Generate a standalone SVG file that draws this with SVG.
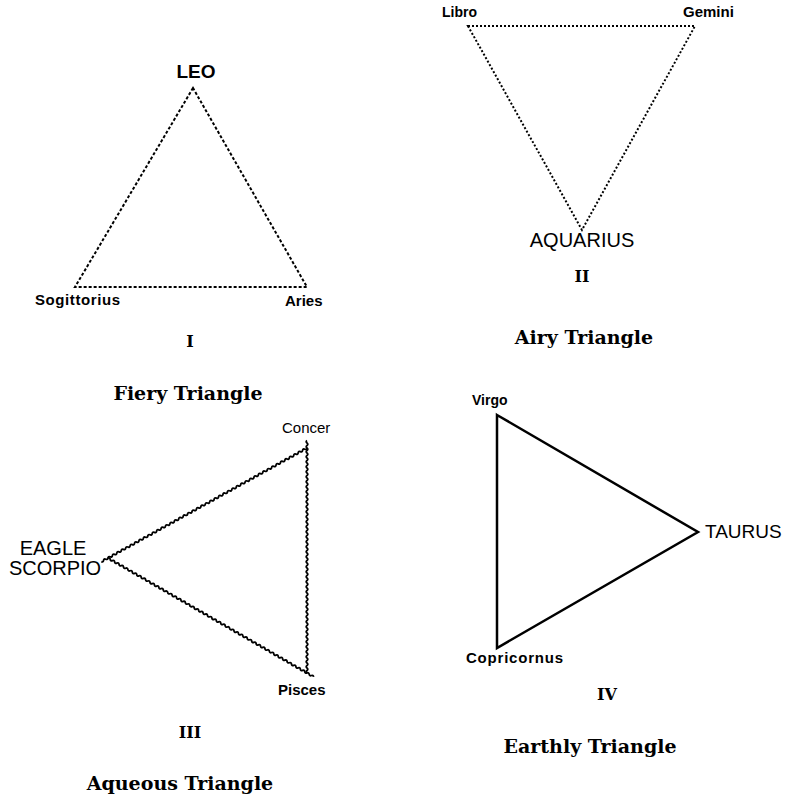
<svg xmlns="http://www.w3.org/2000/svg" xmlns:xlink="http://www.w3.org/1999/xlink" width="790" height="802" viewBox="0 0 790 802">
<style>
.lbl{font-family:"Liberation Sans",Arial,sans-serif;fill:#000}
.b{font-weight:bold}
.title{font-family:"DejaVu Serif","Liberation Serif",serif;font-weight:bold;font-size:19px;fill:#000;text-anchor:middle}
.num{font-family:"DejaVu Serif","Liberation Serif",serif;font-weight:bold;font-size:16px;fill:#000;text-anchor:middle}
.mid{text-anchor:middle}
.fiery{fill:none;stroke:#000;stroke-width:2;stroke-dasharray:3 2}
.airy{fill:none;stroke:#000;stroke-width:2;stroke-dasharray:2 2}
.earth{fill:none;stroke:#000;stroke-width:2.5;stroke-linejoin:miter}
.wave{fill:none;stroke:#000;stroke-width:1.8}
</style>
<defs>
<path id="wv" d="M0,0 q1.25,-1.6 2.5,0 t2.5,0 t2.5,0 t2.5,0 t2.5,0 t2.5,0 t2.5,0 t2.5,0 t2.5,0 t2.5,0 t2.5,0 t2.5,0 t2.5,0 t2.5,0 t2.5,0 t2.5,0 t2.5,0 t2.5,0 t2.5,0 t2.5,0 t2.5,0 t2.5,0 t2.5,0 t2.5,0 t2.5,0 t2.5,0 t2.5,0 t2.5,0 t2.5,0 t2.5,0 t2.5,0 t2.5,0 t2.5,0 t2.5,0 t2.5,0 t2.5,0 t2.5,0 t2.5,0 t2.5,0 t2.5,0 t2.5,0 t2.5,0 t2.5,0 t2.5,0 t2.5,0 t2.5,0 t2.5,0 t2.5,0 t2.5,0 t2.5,0 t2.5,0 t2.5,0 t2.5,0 t2.5,0 t2.5,0 t2.5,0 t2.5,0 t2.5,0 t2.5,0 t2.5,0 t2.5,0 t2.5,0 t2.5,0 t2.5,0 t2.5,0 t2.5,0 t2.5,0 t2.5,0 t2.5,0 t2.5,0 t2.5,0 t2.5,0 t2.5,0 t2.5,0 t2.5,0 t2.5,0 t2.5,0 t2.5,0 t2.5,0 t2.5,0 t2.5,0 t2.5,0 t2.5,0 t2.5,0 t2.5,0 t2.5,0 t2.5,0 t2.5,0 t2.5,0 t2.5,0 t2.5,0 t2.5,0 t2.5,0"/>
</defs>
<rect width="790" height="802" fill="#fff"/>
<g id="connectors">
  <polygon class="fiery" points="193,88 75,287 307,287"/>
  <polygon class="airy" points="468,26 695,26 582,230"/>
  <use xlink:href="#wv" class="wave" transform="translate(307,448) rotate(151.07) scale(1.0107,1)"/>
  <use xlink:href="#wv" class="wave" transform="translate(108,558) rotate(30.02) scale(1.0213,1)"/>
  <use xlink:href="#wv" class="wave" transform="translate(307,673) rotate(-90)"/>
  <polygon class="earth" points="497,415 698,532 497,648"/>
</g>
<g id="fiery">
  <text class="lbl b mid" x="196" y="78" font-size="19">LEO</text>
  <text class="lbl b" x="35" y="305" font-size="15" textLength="85">Sogittorius</text>
  <text class="lbl b" x="285" y="306" font-size="15">Aries</text>
  <text class="num" x="190" y="347">I</text>
  <text class="title" x="188" y="400">Fiery Triangle</text>
</g>
<g id="airy">
  <text class="lbl b" x="442" y="17" font-size="14">Libro</text>
  <text class="lbl b" x="683" y="17" font-size="15">Gemini</text>
  <text class="lbl mid" x="582" y="247" font-size="20">AQUARIUS</text>
  <text class="num" x="582" y="282">II</text>
  <text class="title" x="584" y="344">Airy Triangle</text>
</g>
<g id="aqueous">
  <text class="lbl" x="282" y="433" font-size="15">Concer</text>
  <text class="lbl mid" x="53" y="555" font-size="20">EAGLE</text>
  <text class="lbl mid" x="55" y="575" font-size="20">SCORPIO</text>
  <text class="lbl b" x="278" y="695" font-size="15">Pisces</text>
  <text class="num" x="190" y="738">III</text>
  <text class="title" x="180" y="790">Aqueous Triangle</text>
</g>
<g id="earthly">
  <text class="lbl b" x="472" y="405" font-size="14">Virgo</text>
  <text class="lbl" x="705" y="538" font-size="19">TAURUS</text>
  <text class="lbl b" x="466" y="663" font-size="15" textLength="97">Copricornus</text>
  <text class="num" x="607" y="700" font-size="14">IV</text>
  <text class="title" x="590" y="753">Earthly Triangle</text>
</g>
</svg>
